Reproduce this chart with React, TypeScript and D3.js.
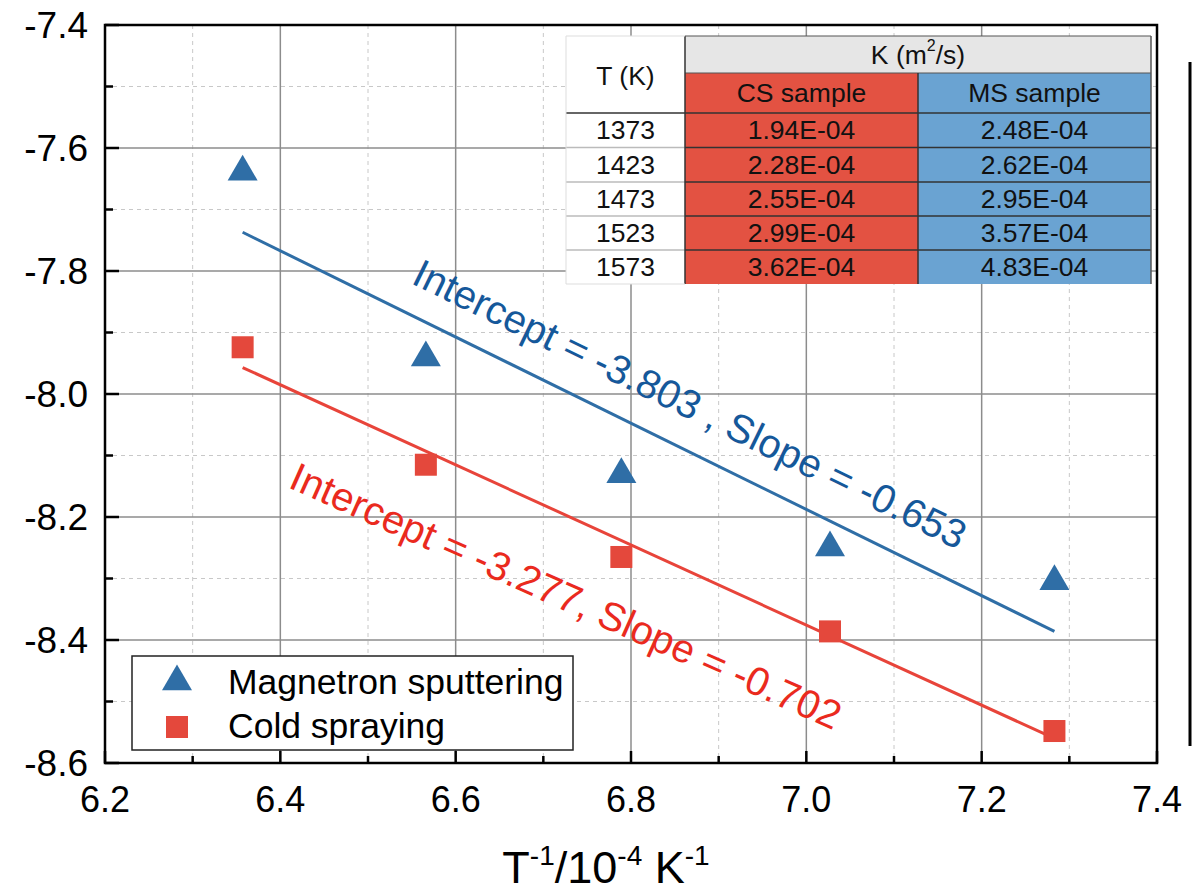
import React from 'react';
import * as d3 from 'd3';

// inverse temperature (1e4/T) and ln K
const invT = [6.357, 6.566, 6.789, 7.027, 7.283];
const msLnK = [-7.636, -7.938, -8.128, -8.247, -8.302];
const csLnK = [-7.924, -8.115, -8.265, -8.386, -8.548];

// fitted lines, end points
const fitX = [6.357, 7.283];
const msFitY = [-7.737, -8.386];
const csFitY = [-7.957, -8.56];

const xTicks = [6.2, 6.4, 6.6, 6.8, 7.0, 7.2, 7.4];
const yTicks = [-7.4, -7.6, -7.8, -8.0, -8.2, -8.4, -8.6];
const xMinor = [6.3, 6.5, 6.7, 6.9, 7.1, 7.3];
const yMinor = [-7.5, -7.7, -7.9, -8.1, -8.3, -8.5];

// inset table
const temps = ['1373', '1423', '1473', '1523', '1573'];
const csK = ['1.94E-04', '2.28E-04', '2.55E-04', '2.99E-04', '3.62E-04'];
const msK = ['2.48E-04', '2.62E-04', '2.95E-04', '3.57E-04', '4.83E-04'];

const FONT = '"Liberation Sans", Arial, sans-serif';
const BLUE = '#2f6ea6';
const RED = '#e4483c';

const W = 1204, H = 893;
const left = 105, right = 1157, top = 25, bottom = 763;

function Triangle({ cx, cy, s, fill }) {
  const h = s * 0.86;
  return <path d={`M${cx},${cy - h * 0.6} L${cx + s / 2},${cy + h * 0.4} L${cx - s / 2},${cy + h * 0.4} Z`} fill={fill} />;
}

function Table() {
  const cols = [566, 685, 918, 1151];
  const rows = [36, 73, 113, 147.5, 182, 216, 250, 284];
  const fs = 26.5;
  return (
    <g fontFamily={FONT} fontSize={fs} fill="#111">
      <rect x={cols[0]} y={rows[0]} width={cols[3] - cols[0]} height={rows[7] - rows[0]} fill="#fff" />
      <rect x={cols[1]} y={rows[0]} width={cols[3] - cols[1]} height={rows[1] - rows[0]} fill="#e6e6e6" />
      <rect x={cols[1]} y={rows[1]} width={cols[2] - cols[1]} height={rows[7] - rows[1]} fill="#e35242" />
      <rect x={cols[2]} y={rows[1]} width={cols[3] - cols[2]} height={rows[7] - rows[1]} fill="#6aa3d2" />
      {/* grid lines */}
      <line x1={cols[1]} x2={cols[3]} y1={rows[1]} y2={rows[1]} stroke="#555" strokeWidth={1.2} />
      {rows.slice(2, 7).map((y, i) => (
        <g key={i}>
          <line x1={cols[0]} x2={cols[1]} y1={y} y2={y} stroke={i === 0 ? '#333' : '#bbb'} strokeWidth={1.5} />
          <line x1={cols[1]} x2={cols[3]} y1={y} y2={y} stroke="#333" strokeWidth={1.5} />
        </g>
      ))}
      <line x1={cols[1]} x2={cols[1]} y1={rows[0]} y2={rows[7]} stroke="#333" strokeWidth={1.5} />
      <line x1={cols[2]} x2={cols[2]} y1={rows[1]} y2={rows[7]} stroke="#333" strokeWidth={1.5} />
      <line x1={cols[3]} x2={cols[3]} y1={rows[0]} y2={rows[7]} stroke="#555" strokeWidth={1.5} />
      <line x1={cols[1]} x2={cols[3]} y1={rows[0]} y2={rows[0]} stroke="#555" strokeWidth={1.2} />
      <line x1={cols[0]} x2={cols[1]} y1={rows[0]} y2={rows[0]} stroke="#ddd" strokeWidth={1} />
      <line x1={cols[0]} x2={cols[0]} y1={rows[0]} y2={rows[7]} stroke="#ddd" strokeWidth={1} />
      <line x1={cols[0]} x2={cols[1]} y1={rows[7]} y2={rows[7]} stroke="#ddd" strokeWidth={1} />

      <text x={(cols[0] + cols[1]) / 2} y={(rows[0] + rows[2]) / 2 + 3} textAnchor="middle" dominantBaseline="middle">T (K)</text>
      <text x={(cols[1] + cols[3]) / 2} y={(rows[0] + rows[1]) / 2 + 2} textAnchor="middle" dominantBaseline="middle">
        K (m<tspan fontSize={16} dy={-10}>2</tspan><tspan dy={10}>/s)</tspan>
      </text>
      <text x={(cols[1] + cols[2]) / 2} y={(rows[1] + rows[2]) / 2 + 2} textAnchor="middle" dominantBaseline="middle">CS sample</text>
      <text x={(cols[2] + cols[3]) / 2} y={(rows[1] + rows[2]) / 2 + 2} textAnchor="middle" dominantBaseline="middle">MS sample</text>
      {temps.map((t, i) => {
        const cy = (rows[i + 2] + rows[i + 3]) / 2 + 2;
        return (
          <g key={t}>
            <text x={(cols[0] + cols[1]) / 2} y={cy} textAnchor="middle" dominantBaseline="middle">{t}</text>
            <text x={(cols[1] + cols[2]) / 2} y={cy} textAnchor="middle" dominantBaseline="middle">{csK[i]}</text>
            <text x={(cols[2] + cols[3]) / 2} y={cy} textAnchor="middle" dominantBaseline="middle">{msK[i]}</text>
          </g>
        );
      })}
    </g>
  );
}

export default function App() {
  const x = d3.scaleLinear().domain([6.2, 7.4]).range([left, right]);
  const y = d3.scaleLinear().domain([-7.4, -8.6]).range([top, bottom]);
  const line = d3.line<number>().x((d, i) => x(fitX[i])).y(d => y(d));

  return (
    <div style={{ position: 'absolute', left: 0, top: 0, background: '#fff' }}>
      <svg width={W} height={H} style={{ display: 'block' }}>
        <rect width={W} height={H} fill="#fff" />

        {/* minor grid */}
        {xMinor.map(v => <line key={'xm' + v} x1={x(v)} x2={x(v)} y1={top} y2={bottom} stroke="#c8c8c8" strokeDasharray="4,4" strokeWidth={1} />)}
        {yMinor.map(v => <line key={'ym' + v} x1={left} x2={right} y1={y(v)} y2={y(v)} stroke="#c8c8c8" strokeDasharray="4,4" strokeWidth={1} />)}
        {/* major grid */}
        {xTicks.slice(1, -1).map(v => <line key={'xg' + v} x1={x(v)} x2={x(v)} y1={top} y2={bottom} stroke="#8c8c8c" strokeWidth={1.5} />)}
        {yTicks.slice(1, -1).map(v => <line key={'yg' + v} x1={left} x2={right} y1={y(v)} y2={y(v)} stroke="#8c8c8c" strokeWidth={1.5} />)}

        {/* ticks */}
        {xTicks.map(v => <line key={'xt' + v} x1={x(v)} x2={x(v)} y1={bottom} y2={bottom - 12} stroke="#000" strokeWidth={2.5} />)}
        {xMinor.map(v => <line key={'xmt' + v} x1={x(v)} x2={x(v)} y1={bottom} y2={bottom - 7} stroke="#000" strokeWidth={2.5} />)}
        {yTicks.map(v => <line key={'yt' + v} x1={left} x2={left + 14} y1={y(v)} y2={y(v)} stroke="#000" strokeWidth={2.5} />)}
        {yMinor.map(v => <line key={'ymt' + v} x1={left} x2={left + 8} y1={y(v)} y2={y(v)} stroke="#000" strokeWidth={2.5} />)}

        <Table />

        {/* fit lines */}
        <path d={line(msFitY) || ''} fill="none" stroke={BLUE} strokeWidth={3} />
        <path d={line(csFitY) || ''} fill="none" stroke="#e8443a" strokeWidth={3} />

        {/* points */}
        {invT.map((v, i) => <Triangle key={'ms' + i} cx={x(v)} cy={y(msLnK[i])} s={30} fill={BLUE} />)}
        {invT.map((v, i) => <rect key={'cs' + i} x={x(v) - 11} y={y(csLnK[i]) - 11} width={22} height={22} fill={RED} />)}

        {/* annotations */}
        <text transform="translate(410,283) rotate(26)" fontFamily={FONT} fontSize={40} fill="#15589a">Intercept = -3.803 , Slope = -0.653</text>
        <text transform="translate(287,487) rotate(24)" fontFamily={FONT} fontSize={40} fill="#ea2a1e">Intercept = -3.277, Slope = -0.702</text>

        {/* legend */}
        <rect x={132} y={656} width={441} height={94} fill="#fff" stroke="#222" strokeWidth={1.5} />
        <Triangle cx={177} cy={680} s={30} fill={BLUE} />
        <rect x={166} y={716} width={22} height={22} fill={RED} />
        <text x={228} y={694} fontFamily={FONT} fontSize={35.5} fill="#000">Magnetron sputtering</text>
        <text x={228} y={738} fontFamily={FONT} fontSize={35.5} fill="#000">Cold spraying</text>

        {/* frame */}
        <rect x={left} y={top} width={right - left} height={bottom - top} fill="none" stroke="#000" strokeWidth={2.5} />
        <line x1={1190} x2={1190} y1={62} y2={746} stroke="#000" strokeWidth={3} />

        {/* tick labels */}
        {yTicks.map(v => (
          <text key={'yl' + v} x={88} y={y(v)} textAnchor="end" dominantBaseline="central" fontFamily={FONT} fontSize={37} fill="#000">{v.toFixed(1)}</text>
        ))}
        {xTicks.map(v => (
          <text key={'xl' + v} x={x(v)} y={812} textAnchor="middle" fontFamily={FONT} fontSize={36} fill="#000">{v.toFixed(1)}</text>
        ))}

        {/* x title */}
        <text x={606} y={883} textAnchor="middle" fontFamily={FONT} fontSize={45} fill="#000">
          T<tspan fontSize={28} dy={-18}>-1</tspan><tspan dy={18}>/10</tspan><tspan fontSize={28} dy={-18}>-4</tspan><tspan dy={18}> K</tspan><tspan fontSize={28} dy={-18}>-1</tspan>
        </text>
      </svg>
    </div>
  );
}
